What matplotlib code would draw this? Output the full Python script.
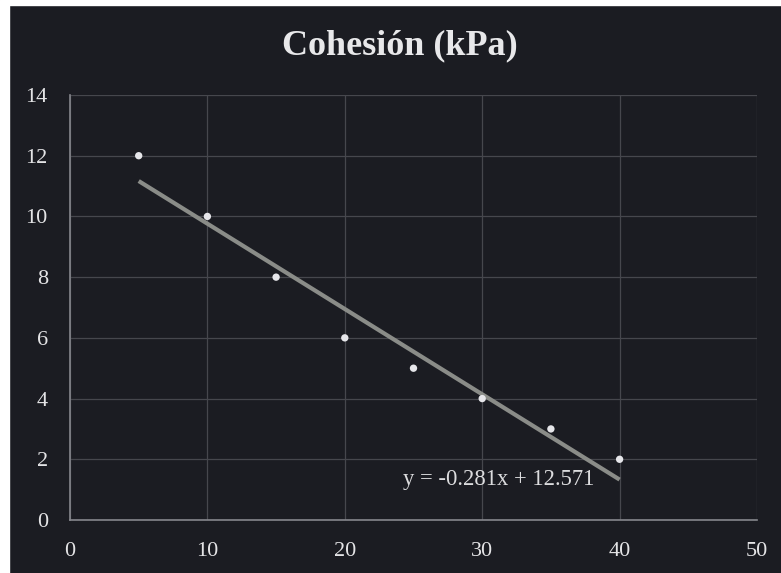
import matplotlib
matplotlib.use("Agg")
import matplotlib.pyplot as plt
import numpy as np
from matplotlib.patches import Rectangle

x_vals = [5, 10, 15, 20, 25, 30, 35, 40]
y_vals = [12, 10, 8, 6, 5, 4, 3, 2]
slope = -0.281
intercept = 12.571
x_ticks = [0, 10, 20, 30, 40, 50]
y_ticks = [0, 2, 4, 6, 8, 10, 12, 14]
title = "Cohesión (kPa)"
eq_label = "y = -0.281x + 12.571"

bg = "#1b1c22"
fig = plt.figure(figsize=(7.81, 5.73), dpi=100, facecolor=bg)
# white scan margins
fig.patches.append(Rectangle((0, 0), 9/781, 1, transform=fig.transFigure, color="white", zorder=0))
fig.patches.append(Rectangle((0, 1-5/573), 1, 5/573, transform=fig.transFigure, color="white", zorder=0))

ax = fig.add_axes([70/781, 1-520/573, 687/781, 425/573])
ax.set_facecolor(bg)
ax.set_xlim(0, 50)
ax.set_ylim(0, 14)
ax.set_xticks(x_ticks)
ax.set_yticks(y_ticks)
ax.grid(True, color="#46474d", linewidth=0.9)
ax.set_axisbelow(True)
for s in ["top", "right"]:
    ax.spines[s].set_visible(False)
for s in ["left", "bottom"]:
    ax.spines[s].set_color("#85868c")
    ax.spines[s].set_linewidth(1.2)
ax.tick_params(length=0, colors="#e4e4e6", labelsize=16, pad=16)
for lab in ax.get_xticklabels() + ax.get_yticklabels():
    lab.set_fontfamily("Liberation Serif")

xt = np.array([min(x_vals), max(x_vals)])
ax.plot(xt, slope*xt + intercept, color="#8a8c88", linewidth=3, solid_capstyle="butt", zorder=3)
ax.scatter(x_vals, y_vals, s=28, color="#e6e6ea", zorder=4, edgecolors="none")

ax.text(31.2, 1.32, eq_label, color="#dcdcde", fontsize=16.3, family="Liberation Serif",
        ha="center", va="center")

fig.text(400/781, 1-46/573, title, color="#e8e8ea", fontsize=26, fontweight="bold",
         family="Liberation Serif", ha="center", va="center")

fig.savefig("out.png", dpi=100, facecolor=bg)
